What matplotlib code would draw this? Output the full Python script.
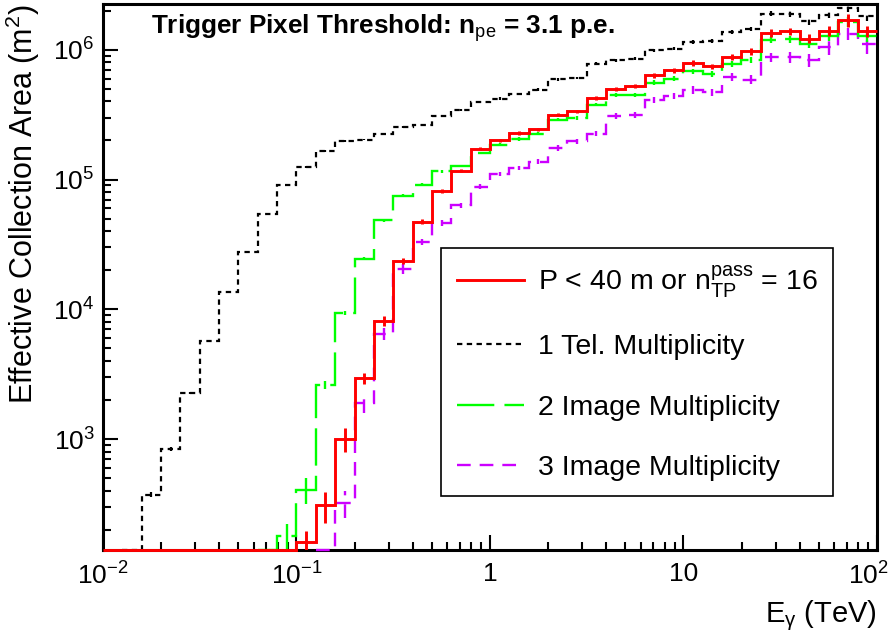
import numpy as np
import matplotlib.pyplot as plt
import matplotlib.transforms as mtransforms
from matplotlib.lines import Line2D
from matplotlib.ticker import FixedLocator, FixedFormatter, LogLocator, NullFormatter

plt.rcParams['font.family'] = ['Liberation Sans', 'DejaVu Sans']
plt.rcParams['mathtext.fontset'] = 'custom'
plt.rcParams['mathtext.rm'] = 'Liberation Sans'
plt.rcParams['mathtext.it'] = 'Liberation Sans:italic'
plt.rcParams['mathtext.bf'] = 'Liberation Sans:bold'

# 10 log bins per decade, 0.01 - 100 TeV
edges = np.logspace(-2, 2, 41)

# effective area per bin (m^2), 0 = empty bin
area_tel1 = [0, 0, 373, 840, 2270, 5670, 13600, 27700, 54600, 91400,
             125000, 165000, 197000, 203000, 226000, 255000, 263000, 307000, 345000, 395000,
             420000, 455000, 493000, 590000, 605000, 780000, 830000, 850000, 990000, 1.02e6,
             1.14e6, 1.17e6, 1.37e6, 1.45e6, 1.9e6, 1.88e6, 1.66e6, 1.86e6, 2.1e6, 1.81e6]
area_img2 = [0, 0, 0, 0, 0, 0, 0, 0, 0, 178,
             408, 2600, 9400, 24600, 48500, 75100, 91000, 116000, 127000, 160000,
             186000, 205000, 226000, 289000, 297000, 378000, 450000, 450000, 558000, 598000,
             682000, 650000, 775000, 840000, 1.19e6, 1.2e6, 1.11e6, 1.27e6, 1.63e6, 1.27e6]
area_img3 = [0, 0, 0, 0, 0, 0, 0, 0, 0, 0,
             0, 0, 322, 1900, 6500, 20500, 33000, 46500, 63500, 88000,
             110000, 123000, 137000, 175000, 197000, 226000, 310000, 316000, 410000, 440000,
             490000, 470000, 617000, 589000, 881000, 875000, 830000, 1.05e6, 1.33e6, 1.11e6]
area_cut = [0, 0, 0, 0, 0, 0, 0, 0, 0, 0,
            160, 309, 1000, 2960, 8170, 23600, 47400, 81000, 117000, 173000,
            200000, 229000, 243000, 316000, 335000, 422000, 500000, 523000, 633000, 693000,
            790000, 745000, 875000, 973000, 1.35e6, 1.385e6, 1.22e6, 1.40e6, 1.69e6, 1.39e6]

# relative statistical errors per bin
err_tel1 = [0, 0, 0.04, 0.03, 0.02, 0.02, 0.02, 0.02, 0.015, 0.015,
            0.015, 0.015, 0.015, 0.015, 0.015, 0.015, 0.015, 0.015, 0.015, 0.015,
            0.02, 0.02, 0.02, 0.02, 0.02, 0.025, 0.025, 0.025, 0.03, 0.03,
            0.035, 0.035, 0.04, 0.04, 0.05, 0.05, 0.06, 0.06, 0.07, 0.08]
err_img2 = [0, 0, 0, 0, 0, 0, 0, 0, 0, 0.25,
            0.22, 0.07, 0.04, 0.03, 0.025, 0.025, 0.025, 0.025, 0.025, 0.025,
            0.025, 0.03, 0.03, 0.03, 0.03, 0.03, 0.035, 0.035, 0.04, 0.045,
            0.05, 0.05, 0.055, 0.055, 0.06, 0.065, 0.07, 0.075, 0.09, 0.09]
err_img3 = [0, 0, 0, 0, 0, 0, 0, 0, 0, 0,
            0, 0, 0.23, 0.17, 0.11, 0.08, 0.06, 0.05, 0.045, 0.04,
            0.04, 0.04, 0.045, 0.045, 0.045, 0.05, 0.05, 0.05, 0.06, 0.06,
            0.065, 0.065, 0.07, 0.075, 0.08, 0.09, 0.12, 0.14, 0.11, 0.17]
err_cut = [0, 0, 0, 0, 0, 0, 0, 0, 0, 0,
           0.22, 0.27, 0.21, 0.10, 0.085, 0.05, 0.045, 0.035, 0.03, 0.03,
           0.03, 0.03, 0.03, 0.03, 0.03, 0.035, 0.035, 0.035, 0.04, 0.045,
           0.05, 0.05, 0.055, 0.06, 0.07, 0.07, 0.08, 0.085, 0.12, 0.095]

labels = [r"P < 40 m or n$_{\mathrm{TP}}^{\mathrm{pass}}$ = 16",
          "1 Tel. Multiplicity",
          "2 Image Multiplicity",
          "3 Image Multiplicity"]

ymin, ymax = 140, 2.25e6

fig = plt.figure(figsize=(8.93, 6.35), dpi=100)
ax = fig.add_axes([0.1153, 0.134, 0.8667, 0.8597])
ax.set_xscale('log')
ax.set_yscale('log')
ax.set_xlim(0.01, 100)
ax.set_ylim(ymin, ymax)

centers = np.sqrt(edges[:-1] * edges[1:])

def draw_hist(vals, rel, color, ls, lw, z, full=False):
    v = np.array(vals, dtype=float)
    r = np.array(rel, dtype=float)
    shown = np.where(v > 0, v, ymin)
    # empty bins lie on the bottom of the frame; only the top curve keeps them all
    k0 = 0 if full else max(np.argmax(v > 0) - 1, 0)
    ax.stairs(shown[k0:], edges[k0:], baseline=None, color=color, linestyle=ls,
              lw=lw, zorder=z, clip_on=False)
    m = v > 0
    lo = np.maximum(v[m] * (1 - r[m]), ymin)
    hi = v[m] * (1 + r[m])
    ax.vlines(centers[m], lo, hi, colors=color, linestyles=ls, lw=lw, zorder=z)

style_tel1 = dict(color='black', ls=(0, (2.4, 2.0)), lw=1.6)
style_img3 = dict(color='#cc00ff', ls=(0, (5.8, 3.8)), lw=1.7)
style_img2 = dict(color='#00ff00', ls=(0, (15.8, 4.3)), lw=1.7)
style_cut = dict(color='red', ls='-', lw=2.1)

draw_hist(area_tel1, err_tel1, style_tel1['color'], style_tel1['ls'], style_tel1['lw'], 3)
draw_hist(area_img3, err_img3, style_img3['color'], style_img3['ls'], style_img3['lw'], 4)
draw_hist(area_img2, err_img2, style_img2['color'], style_img2['ls'], style_img2['lw'], 5)
draw_hist(area_cut, err_cut, style_cut['color'], style_cut['ls'], style_cut['lw'], 6, full=True)

# axes styling (ROOT-like); frame sits under the histograms
for s in ax.spines.values():
    s.set_linewidth(2.2)
    s.set_zorder(2.5)
ax.tick_params(which='both', direction='in', top=False, right=False, width=1.5)
ax.tick_params(which='major', length=11, labelsize=19)
ax.tick_params(which='minor', length=6)
ax.tick_params(axis='x', which='major', pad=9)
ax.tick_params(axis='y', which='major', pad=6)

xt = [0.01, 0.1, 1, 10, 100]
ax.xaxis.set_major_locator(FixedLocator(xt))
ax.xaxis.set_major_formatter(FixedFormatter([r'$10^{-2}$', r'$10^{-1}$', '1', '10', r'$10^{2}$']))
ax.xaxis.set_minor_locator(LogLocator(base=10, subs=np.arange(2, 10), numticks=20))
ax.xaxis.set_minor_formatter(NullFormatter())
yt = [1e3, 1e4, 1e5, 1e6]
ax.yaxis.set_major_locator(FixedLocator(yt))
ax.yaxis.set_major_formatter(FixedFormatter([r'$10^{3}$', r'$10^{4}$', r'$10^{5}$', r'$10^{6}$']))
ax.yaxis.set_minor_locator(LogLocator(base=10, subs=np.arange(2, 10), numticks=20))
ax.yaxis.set_minor_formatter(NullFormatter())

# keep the last x label inside the canvas
fig.canvas.draw()
last = ax.get_xticklabels()[-1]
last.set_transform(last.get_transform() + mtransforms.ScaledTranslation(-9 / 100, 0, fig.dpi_scale_trans))

ax.set_xlabel(r'E$_{\mathrm{\gamma}}$ (TeV)', fontsize=21, loc='right', labelpad=6)
ax.set_ylabel(r'Effective Collection Area (m$^{2}$)', fontsize=22, loc='top', labelpad=8)

ax.text(0.062, 0.985, r'Trigger Pixel Threshold: n$_{\mathrm{pe}}$ = 3.1 p.e.',
        transform=ax.transAxes, fontsize=18.8, fontweight='bold', va='top', ha='left')

handles = [Line2D([], [], color=style_cut['color'], ls=style_cut['ls'], lw=style_cut['lw']),
           Line2D([], [], color=style_tel1['color'], ls=style_tel1['ls'], lw=style_tel1['lw']),
           Line2D([], [], color=style_img2['color'], ls=style_img2['ls'], lw=style_img2['lw']),
           Line2D([], [], color=style_img3['color'], ls=style_img3['ls'], lw=style_img3['lw'])]
leg = ax.legend(handles, labels, loc='upper left', bbox_to_anchor=(0.4367, 0.553),
                fontsize=20.5, frameon=True, fancybox=False, framealpha=1,
                edgecolor='black', handlelength=2.35, handletextpad=0.5,
                labelspacing=1.2, borderpad=0.55, borderaxespad=0)
leg.get_frame().set_linewidth(1.2)
leg.set_zorder(20)

fig.savefig('out.png', dpi=100)
